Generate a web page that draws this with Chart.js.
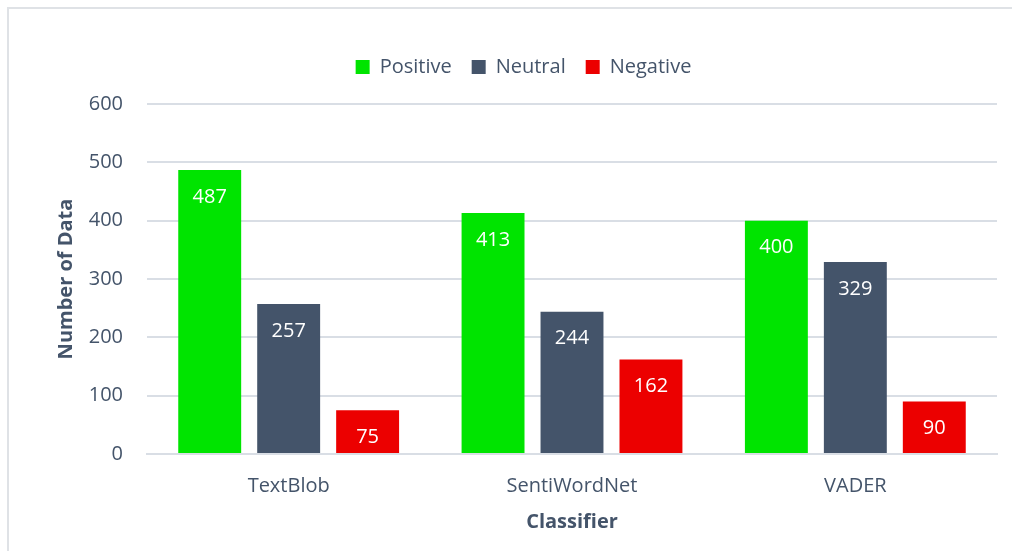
<!DOCTYPE html>
<html>
<head>
<meta charset="utf-8">
<script src="https://cdn.jsdelivr.net/npm/chart.js@4.4.1/dist/chart.umd.min.js"></script>
<style>
  html, body { margin: 0; padding: 0; background: #fff; }
  #wrap { position: relative; width: 1012px; height: 551px; overflow: hidden; }
  #frame { position: absolute; left: 7px; top: 7px; width: 1020px; height: 560px; border: 2px solid #dfe2e6; box-sizing: border-box; pointer-events: none; }
  canvas { position: absolute; left: 0; top: 0; }
</style>
</head>
<body>
<div id="wrap">
  <canvas id="c" width="1012" height="551"></canvas>
  <div id="frame"></div>
</div>
<script>
const categories = ['TextBlob', 'SentiWordNet', 'VADER'];
const positive = [487, 413, 400];
const neutral = [257, 244, 329];
const negative = [75, 162, 90];
const yTicks = [0, 100, 200, 300, 400, 500, 600];

const FONT = '"Open Sans", sans-serif';
const TEXT = '#44546a';
const GRID = '#d9dee5';

const valueLabels = {
  id: 'valueLabels',
  afterDatasetsDraw(chart) {
    const ctx = chart.ctx;
    ctx.save();
    ctx.fillStyle = '#ffffff';
    ctx.font = '20px ' + FONT;
    ctx.textAlign = 'center';
    ctx.textBaseline = 'middle';
    chart.data.datasets.forEach((ds, i) => {
      const meta = chart.getDatasetMeta(i);
      meta.data.forEach((el, j) => {
        ctx.fillText(String(ds.data[j]), el.x, el.y + 27);
      });
    });
    ctx.restore();
  }
};

const legendSpace = {
  id: 'legendSpace',
  beforeLayout(chart) {
    const lg = chart.legend;
    if (lg && !lg._patched) {
      const orig = lg.fit;
      lg.fit = function () { orig.call(this); this.height += 17; };
      lg._patched = true;
    }
  }
};

new Chart(document.getElementById('c'), {
  type: 'bar',
  data: {
    labels: categories,
    datasets: [
      { label: 'Positive', data: positive, backgroundColor: '#00e400' },
      { label: 'Neutral', data: neutral, backgroundColor: '#44546a' },
      { label: 'Negative', data: negative, backgroundColor: '#ec0000' }
    ]
  },
  options: {
    responsive: false,
    animation: false,
    devicePixelRatio: 1,
    layout: { padding: { left: 50, right: 15, top: 37, bottom: 13 } },
    datasets: { bar: { categoryPercentage: 0.836, barPercentage: 0.797 } },
    plugins: {
      legend: {
        position: 'top',
        labels: {
          color: TEXT,
          font: { family: FONT, size: 20 },
          boxWidth: 14,
          boxHeight: 14,
          padding: 20
        }
      },
      tooltip: { enabled: false }
    },
    scales: {
      x: {
        grid: { display: false, drawTicks: false },
        border: { display: true, color: GRID, width: 2 },
        ticks: { color: TEXT, font: { family: FONT, size: 20 }, padding: 20 },
        title: { display: true, text: 'Classifier', color: TEXT, font: { family: FONT, size: 20, weight: 'bold' } },
        afterFit(scale) { scale.height = 84; }
      },
      y: {
        min: 0,
        max: 600,
        afterBuildTicks(scale) { scale.ticks = yTicks.map(v => ({ value: v })); },
        grid: { color: GRID, lineWidth: 2, drawTicks: false },
        border: { display: false },
        ticks: { color: TEXT, font: { family: FONT, size: 20 }, padding: 24 },
        title: { display: true, text: 'Number of Data', color: TEXT, font: { family: FONT, size: 20, weight: 'bold' } },
        afterFit(scale) { scale.width = 97; }
      }
    }
  },
  plugins: [valueLabels, legendSpace]
});
</script>
</body>
</html>
